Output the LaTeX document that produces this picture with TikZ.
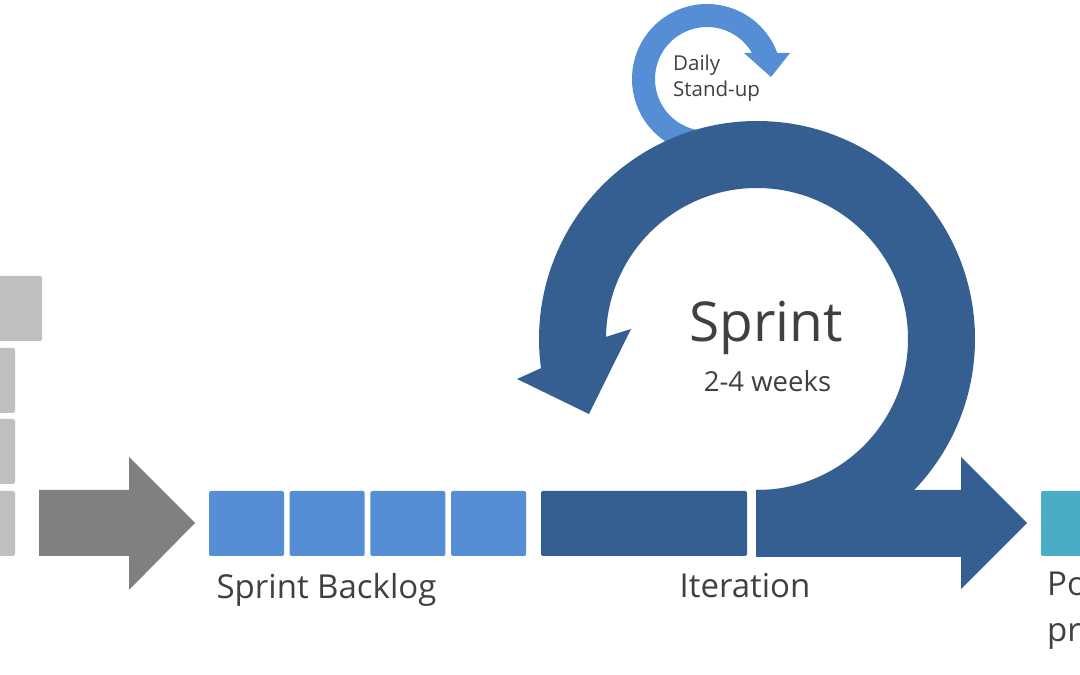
\documentclass[tikz,border=0pt]{standalone}
\usepackage{fontspec}
\setmainfont{Open Sans}
\definecolor{Story}{RGB}{191,191,191}
\definecolor{Feed}{RGB}{128,128,128}
\definecolor{Backlog}{RGB}{85,142,213}
\definecolor{SprintBlue}{RGB}{54,95,145}
\definecolor{Shipped}{RGB}{75,172,198}
\definecolor{Label}{RGB}{64,64,64}
\usetikzlibrary{positioning,calc}

\begin{document}
\begin{tikzpicture}[x=1pt,y=1pt,
  card/.style={rectangle,inner sep=0pt,outer sep=0pt,minimum height=65pt,rounded corners=2pt},
  lbl/.style={text=Label,anchor=base,inner sep=0pt,font=\fontsize{33}{40}\selectfont}]
  \useasboundingbox (0,0) rectangle (1080,675);
  \clip (0,0) rectangle (1080,675);
  \node[card,fill=Story,minimum width=65pt,anchor=north east] (pb0) at (42,399) {};
  \foreach \i/\y in {1/327,2/256,3/184} {
    \node[card,fill=Story,minimum width=65pt,anchor=north east] (pb\i) at (15,\y) {};
  }
  \fill[Feed] (39,119) -- (129,119) -- (129,85) -- (195,152) -- (129,218) -- (129,185) -- (39,185) -- cycle;
  \foreach \i in {0,...,3} {
    \node[card,fill=Backlog,minimum width=75pt,anchor=south west] (sb\i) at ({209+80.7*\i},119) {};
  }
  \node[card,fill=SprintBlue,minimum width=206pt,anchor=south west] (iter) at (541,119) {};
  \node[card,fill=Shipped,minimum width=75pt,anchor=south west] (ship) at (1041,119) {};
  \coordinate (dc) at (707,596);
  \fill[Backlog] ($(dc)+(265:75)$) arc[start angle=265,end angle=20.4,radius=75]
    -- (790,622) -- (771,598) -- (744,622)
    -- ($(dc)+(30:52)$) arc[start angle=30,end angle=265,radius=52] -- cycle;
  \coordinate (sc) at (757,336);
  \fill[SprintBlue] ($(sc)+(270:218)$) arc[start angle=270,end angle=547.7,radius=218]
    -- (517,296) -- (589,261) -- (631,346)
    -- ($(sc)+(179.2:151)$) arc[start angle=179.2,end angle=-90,radius=151] -- cycle;
  \fill[SprintBlue] (756,118) -- (961,118) -- (961,86) -- (1027,152) -- (961,218) -- (961,185) -- (756,185) -- cycle;
  \node[lbl] (sbl) at (326.5,76) {Sprint Backlog};
  \node[lbl] (itl) at (745,77) {Iteration};
  \node[lbl,anchor=base west] (shl1) at (1047,79) {Potentially shippable};
  \node[lbl,anchor=base west] (shl2) at (1047,33) {product increment};
  \node[lbl,font=\fontsize{55}{64}\selectfont] (spl) at (766,333) {Sprint};
  \node[lbl,font=\fontsize{27.5}{32}\selectfont] (wkl) at (767.5,283) {2-4 weeks};
  \node[lbl,anchor=base west,font=\fontsize{20.5}{26}\selectfont] (dsl1) at (673,604) {Daily};
  \node[lbl,anchor=base west,font=\fontsize{20.5}{26}\selectfont] (dsl2) at (673,578) {Stand-up};
\end{tikzpicture}
\end{document}
